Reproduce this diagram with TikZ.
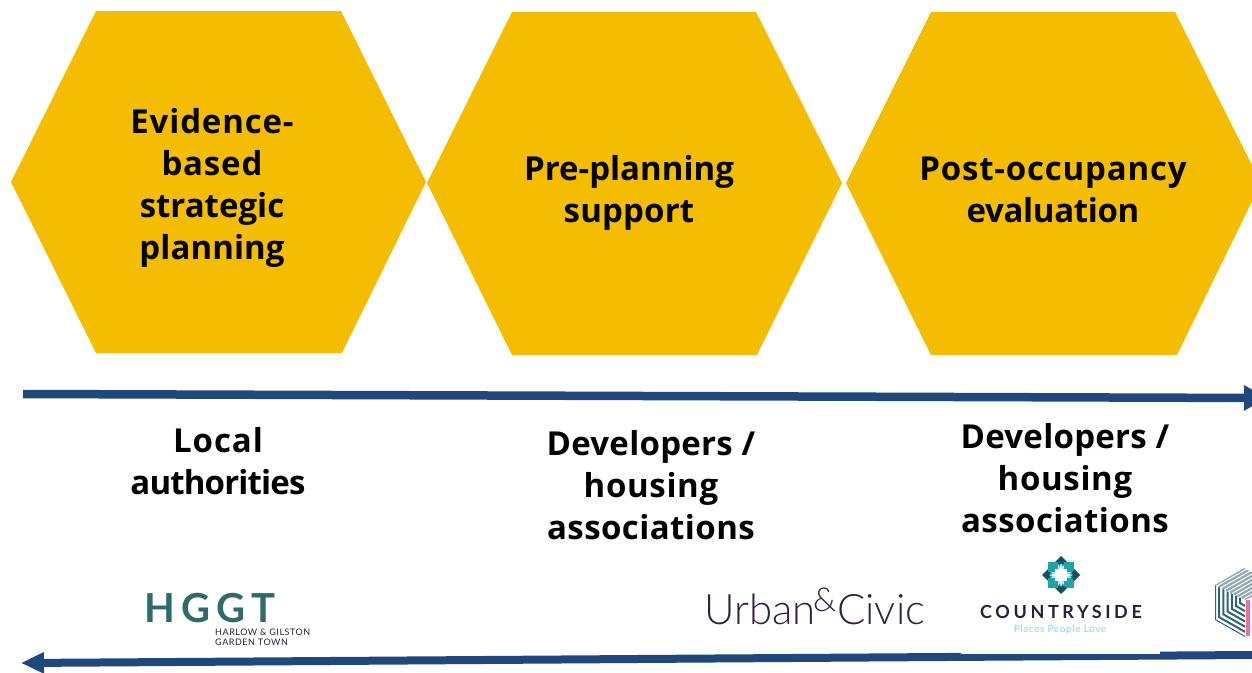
\documentclass[tikz,border=0pt]{standalone}
\usepackage{fontspec}
\usetikzlibrary{arrows.meta,calc}
\setmainfont{Open Sans}
\newfontfamily\labelfont[LetterSpace=2.5]{Open Sans}
\newfontfamily\hgfont[LetterSpace=15]{Lato}
\newfontfamily\subfont[LetterSpace=6]{Lato}
\newfontfamily\ucfont{Lato Light}
\newfontfamily\csfont[LetterSpace=20]{Lato}
\newcommand{\lsp}[2]{{\addfontfeature{LetterSpace=#1}#2}}
\definecolor{hexgold}{HTML}{F4BD00}
\definecolor{arrowblue}{HTML}{1F497D}
\definecolor{hggteal}{HTML}{2F6B68}
\definecolor{logoink}{HTML}{23233A}
\definecolor{ucink}{HTML}{32213F}
\definecolor{csteal}{HTML}{1FA3A3}
\definecolor{csdark}{HTML}{14505F}
\definecolor{cslight}{HTML}{7FDDE6}
\definecolor{cubeteal}{HTML}{2F6478}
\definecolor{cubegray}{HTML}{8FA9B2}
\definecolor{cubepink}{HTML}{F2718F}
\tikzset{
  x=1pt,y=-1pt,
  hexbox/.style={draw=none,fill=hexgold},
  lab/.style={font=\fontsize{33}{42}\selectfont\labelfont\bfseries,align=center,text=black,inner sep=0pt},
  flowtop/.style={draw=arrowblue,line width=8.5pt,-{Triangle[length=23pt,width=24pt]}},
  flowbot/.style={draw=arrowblue,line width=8pt,-{Triangle[length=23pt,width=20pt]}},
}
\begin{document}
\begin{tikzpicture}
\clip (0,0) rectangle (1252,672);
\fill[white] (0,0) rectangle (1252,672);
% hexagons
\fill[hexbox] (11,182) -- (96,11) -- (341,11) -- (426,182) -- (342,353) -- (96,353) -- cycle;
\fill[hexbox] (427,183) -- (512,12) -- (756,12) -- (842,183) -- (757,355) -- (512,355) -- cycle;
\fill[hexbox] (846,183) -- (931,12) -- (1175,12) -- (1261,183) -- (1177,355) -- (931,355) -- cycle;
\node[lab] (h1) at (212,188) {Evidence-\\based\\\lsp{0}{strategic}\\\lsp{0.2}{planning}};
\node[lab] (h2) at (629,193) {\lsp{0}{Pre-planning}\\\lsp{0.5}{support}};
\node[lab] (h3) at (1053,190) {Post-occupancy\\\lsp{-1}{evaluation}};
% arrows
\coordinate (topstart) at (23,394);
\coordinate (topend) at (1267,398);
\coordinate (botstart) at (1252,655);
\coordinate (botend) at (21,663);
\draw[flowtop] (topstart) -- (topend);
\draw[flowbot] (botstart) -- (botend);
% audience labels
\node[lab] (a1) at (218,461) {\lsp{2.8}{Local}\\\lsp{-2.5}{authorities}};
\node[lab] (a2) at (651,485) {\lsp{0.8}{Developers /}\\\lsp{2}{housing}\\\lsp{1.3}{associations}};
\node[lab] (a3) at (1065,478) {\lsp{0.8}{Developers /}\\\lsp{2}{housing}\\\lsp{1.3}{associations}};
% HGGT logo
\node[inner sep=0pt,anchor=west,text=hggteal,font=\fontsize{40}{40}\selectfont\hgfont\bfseries] (hggt) at (144,608) {HGGT};
\node[inner sep=0pt,anchor=north west,align=left,text=logoink,font=\fontsize{9}{10}\selectfont\subfont] (hggtsub) at (215,629) {HARLOW \& GILSTON\\GARDEN TOWN};
% Urban&Civic logo
\node[inner sep=0pt,anchor=base west,text=ucink,font=\fontsize{42}{42}\selectfont\ucfont] (uc1) at (704,624) {Urban};
\node[inner sep=0pt,anchor=base west,text=ucink,font=\fontsize{33}{33}\selectfont\ucfont] (uc2) at (813,611) {\&};
\node[inner sep=0pt,anchor=base west,text=ucink,font=\fontsize{42}{42}\selectfont\ucfont] (uc3) at (837,624) {Civic};
% Countryside logo
\fill[white] (961,553) rectangle (1160,654);
\begin{scope}[shift={(1061,575)}]
  \foreach \a in {0,90,180,270}{
    \fill[csteal,rotate=\a] (3,3) rectangle (13,13);
    \fill[csteal,rotate=\a] (0,-7) -- (-6,-13) -- (6,-13) -- cycle;
    \fill[csdark,rotate=\a] (-6,-13) -- (0,-19) -- (6,-13) -- (0,-10) -- cycle;
  }
  \fill[cslight] (0,-12) -- (4,-4) -- (12,0) -- (4,4) -- (0,12) -- (-4,4) -- (-12,0) -- (-4,-4) -- cycle;
  \fill[white] (0,-10) -- (3,-3) -- (10,0) -- (3,3) -- (0,10) -- (-3,3) -- (-10,0) -- (-3,-3) -- cycle;
  \fill[white] (-6,-6) rectangle (6,6);
\end{scope}
\node[inner sep=0pt,text=logoink,font=\fontsize{18}{18}\selectfont\csfont\bfseries] (cs) at (1061,612) {COUNTRYSIDE};
\node[inner sep=0pt,text=cslight,font=\fontsize{10}{10}\selectfont\subfont] (cstag) at (1060,630) {Places People Love};
% cube logo
\begin{scope}
  \clip (1215,585) -- (1245,600) -- (1245,637) -- (1215,620) -- cycle;
  \fill[white] (1215,585) rectangle (1246,637);
  \foreach \t in {0,0.14,...,0.9}{
    \draw[cubeteal,line width=2pt]
      ($(1215,585)!\t!(1245,600)$) -- ($(1215,620)!\t!(1245,600)$) -- ($(1245,637)!\t!(1245,600)$);
  }
\end{scope}
\begin{scope}
  \clip (1215,585) -- (1244,568) -- (1275,585) -- (1245,600) -- cycle;
  \foreach \t in {0,0.125,...,1}{
    \draw[cubegray,line width=2.2pt]
      ($(1215,585)!\t!(1245,600)$) -- ++(30,-17);
  }
\end{scope}
\fill[cubepink] (1246,600) rectangle (1250,636);
\fill[white] (1250,600) rectangle (1252,636);
\end{tikzpicture}
\end{document}
